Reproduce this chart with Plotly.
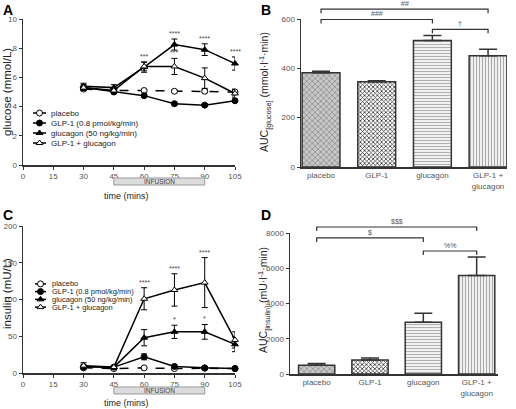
import plotly.graph_objects as go

# ---------------- data ----------------
time = [30, 45, 60, 75, 90, 105]
series_names = ["placebo", "GLP-1 (0.8 pmol/kg/min)", "glucagon (50 ng/kg/min)", "GLP-1 + glucagon"]

glu_placebo = [5.2, 5.1, 5.1, 5.05, 5.05, 5.0]
glu_placebo_err = [0.1, 0.1, 0.08, 0.08, 0.1, 0.2]
glu_glp1 = [5.3, 5.0, 4.75, 4.2, 4.1, 4.4]
glu_glp1_err = [0.1, 0.1, 0.08, 0.08, 0.08, 0.1]
glu_glucagon = [5.4, 5.3, 6.7, 8.25, 7.9, 6.95]
glu_glucagon_err = [0.2, 0.2, 0.35, 0.38, 0.4, 0.45]
glu_combo = [5.3, 5.1, 6.75, 6.75, 5.95, 4.9]
glu_combo_err = [0.2, 0.15, 0.3, 0.55, 0.7, 0.25]

ins_placebo = [7, 6, 7, 6, 6.5, 6]
ins_placebo_err = [1, 1, 1, 1, 1, 1]
ins_glp1 = [8, 8, 22, 9, 7, 6]
ins_glp1_err = [2, 1, 4, 1.5, 1, 1]
ins_glucagon = [9, 8, 48, 56, 56, 39]
ins_glucagon_err = [3, 2, 11, 9, 10, 10]
ins_combo = [10, 8, 101, 113, 123, 45]
ins_combo_err = [4, 2, 15, 22, 34, 11]

glu_stars = [(60, "glucagon", "***"), (75, "glucagon", "****"), (90, "glucagon", "****"),
             (105, "glucagon", "****"), (75, "combo", "***")]
ins_stars = [(60, "combo", "****"), (75, "combo", "****"), (90, "combo", "****"),
             (75, "glucagon", "*"), (90, "glucagon", "*")]

bar_labels = ["placebo", "GLP-1", "glucagon", "GLP-1 +<br>glucagon"]
auc_glucose = [382, 346, 513, 451]
auc_glucose_err = [6, 4, 20, 26]
auc_insulin = [490, 790, 2940, 5590]
auc_insulin_err = [110, 120, 510, 1050]

glu_brackets = [(0, 3, "##", 640), (0, 2, "###", 598), (2, 3, "†", 558)]
ins_brackets = [(0, 3, "$$$", 8340), (0, 2, "$", 7720), (2, 3, "%%", 6980)]

time_ticks = [0, 15, 30, 45, 60, 75, 90, 105]
infusion = (45, 90)

# ---------------- layout geometry ----------------
W, H = 516, 409
def px(x): return x / W
def py(y): return 1 - y / H

FONT = "Liberation Sans, Arial, sans-serif"
AX = "#333333"
TICKC = "#555555"

domA = dict(x=[px(23), px(235)], y=[py(165), py(19)], xr=[0, 105], yr=[0, 10])
domB = dict(x=[px(301), px(507)], y=[py(167), py(19)], xr=[-0.36, 3.34], yr=[0, 600])
domC = dict(x=[px(23), px(235)], y=[py(373), py(226)], xr=[0, 105], yr=[0, 200])
domD = dict(x=[px(290), px(498)], y=[py(374), py(233)], xr=[-0.5, 3.4], yr=[0, 8000])

def mapx(v, d): return d["x"][0] + (v - d["xr"][0]) / (d["xr"][1] - d["xr"][0]) * (d["x"][1] - d["x"][0])
def mapy(v, d): return d["y"][0] + (v - d["yr"][0]) / (d["yr"][1] - d["yr"][0]) * (d["y"][1] - d["y"][0])

fig = go.Figure()

styles = [
    dict(symbol="circle", color="white", dash="dash"),
    dict(symbol="circle", color="black", dash="solid"),
    dict(symbol="triangle-up", color="black", dash="solid"),
    dict(symbol="triangle-up", color="white", dash="solid"),
]

def add_lines(vals, errs, xa, ya):
    for (v, e, st, nm) in zip(vals, errs, styles, series_names):
        fig.add_trace(go.Scatter(
            x=time, y=v, xaxis=xa, yaxis=ya, name=nm, showlegend=False,
            mode="lines+markers",
            line=dict(color="black", width=1.5, dash=st["dash"]),
            marker=dict(symbol=st["symbol"], size=6, color=st["color"],
                        line=dict(color="black", width=1)),
            error_y=dict(type="data", array=e, color="black", thickness=1, width=3),
            cliponaxis=False,
        ))

add_lines([glu_placebo, glu_glp1, glu_glucagon, glu_combo],
          [glu_placebo_err, glu_glp1_err, glu_glucagon_err, glu_combo_err], "x", "y")
add_lines([ins_placebo, ins_glp1, ins_glucagon, ins_combo],
          [ins_placebo_err, ins_glp1_err, ins_glucagon_err, ins_combo_err], "x3", "y3")

patterns = [
    dict(shape="x", bgcolor="#c8c8c8", fgcolor="#808080", size=4, solidity=0.3),
    dict(shape="x", bgcolor="#ffffff", fgcolor="#333333", size=3, solidity=0.45),
    dict(shape="-", bgcolor="#ffffff", fgcolor="#b0b0b0", size=3, solidity=0.45),
    dict(shape="|", bgcolor="#ffffff", fgcolor="#a8a8a8", size=3, solidity=0.45),
]

def add_bars(vals, errs, xa, ya):
    for i, (v, e) in enumerate(zip(vals, errs)):
        fig.add_trace(go.Bar(
            x=[i], y=[v], xaxis=xa, yaxis=ya, width=0.68, showlegend=False,
            marker=dict(color=patterns[i]["bgcolor"], pattern=patterns[i],
                        line=dict(color="#333333", width=1.5)),
            error_y=dict(type="data", array=[e], arrayminus=[0], symmetric=False,
                         color="#333333", thickness=1.5, width=9),
        ))

add_bars(auc_glucose, auc_glucose_err, "x2", "y2")
add_bars(auc_insulin, auc_insulin_err, "x4", "y4")

# ---------------- axes ----------------
def axis_common():
    return dict(showline=True, linecolor=AX, linewidth=1.5, ticks="outside", ticklen=3,
                tickcolor=AX, tickwidth=1, showgrid=False, zeroline=False, automargin=False,
                tickfont=dict(family=FONT, size=8, color=TICKC), fixedrange=True)

lay = dict(
    template="none",
    width=W, height=H, margin=dict(l=0, r=0, t=0, b=0, pad=0), autosize=False,
    paper_bgcolor="white", plot_bgcolor="white", showlegend=False, barmode="overlay",
    font=dict(family=FONT, color="#222"),
)
lay["xaxis"] = dict(axis_common(), domain=domA["x"], range=domA["xr"], anchor="y",
                    tickvals=time_ticks)
lay["yaxis"] = dict(axis_common(), domain=domA["y"], range=domA["yr"], anchor="x", dtick=2)
lay["xaxis2"] = dict(axis_common(), domain=domB["x"], range=domB["xr"], anchor="y2",
                     tickvals=[0, 1, 2, 3], ticktext=bar_labels, ticks="")
lay["yaxis2"] = dict(axis_common(), domain=domB["y"], range=domB["yr"], anchor="x2", dtick=200)
lay["xaxis3"] = dict(axis_common(), domain=domC["x"], range=domC["xr"], anchor="y3",
                     tickvals=time_ticks)
lay["yaxis3"] = dict(axis_common(), domain=domC["y"], range=domC["yr"], anchor="x3", dtick=50)
lay["xaxis4"] = dict(axis_common(), domain=domD["x"], range=domD["xr"], anchor="y4",
                     tickvals=[0, 1, 2, 3], ticktext=bar_labels, ticks="")
lay["yaxis4"] = dict(axis_common(), domain=domD["y"], range=domD["yr"], anchor="x4", dtick=2000)

# legend axes (manual compact legends)
lay["xaxis5"] = dict(domain=[px(33), px(46)], range=[0, 1], visible=False, anchor="y5", fixedrange=True)
lay["yaxis5"] = dict(domain=[py(148), py(108)], range=[3.5, -0.5], visible=False, anchor="x5", fixedrange=True)
lay["xaxis6"] = dict(domain=[px(35), px(46)], range=[0, 1], visible=False, anchor="y6", fixedrange=True)
lay["yaxis6"] = dict(domain=[py(311), py(280)], range=[3.5, -0.5], visible=False, anchor="x6", fixedrange=True)
fig.update_layout(**lay)

annotations = []
shapes = []

def ann(**kw):
    kw.setdefault("showarrow", False)
    kw.setdefault("xanchor", "center")
    kw.setdefault("yanchor", "middle")
    annotations.append(kw)

def add_legend(xa, ya, textx, fsize):
    for i, (st, nm) in enumerate(zip(styles, series_names)):
        fig.add_trace(go.Scatter(x=[0, 1], y=[i, i], xaxis=xa, yaxis=ya, mode="lines",
                                 line=dict(color="black", width=1.5, dash="solid"),
                                 showlegend=False, hoverinfo="skip"))
        fig.add_trace(go.Scatter(x=[0.5], y=[i], xaxis=xa, yaxis=ya, mode="markers",
                                 marker=dict(symbol=st["symbol"], size=6, color=st["color"],
                                             line=dict(color="black", width=1)),
                                 showlegend=False, hoverinfo="skip"))
        ann(x=px(textx), y=i, xref="paper", yref=ya, text=nm, xanchor="left",
            font=dict(family=FONT, size=fsize, color="#222"))

add_legend("x5", "y5", 49, 8)
add_legend("x6", "y6", 50, 7.5)

# stars
def add_stars(stars, lookup, xa, ya):
    for t, key, txt in stars:
        i = time.index(t)
        v, e = lookup[key]
        ann(x=t, y=v[i] + e[i], xref=xa, yref=ya, text=txt, yanchor="bottom", yshift=0,
            font=dict(family=FONT, size=7, color="#444"))

add_stars(glu_stars, {"glucagon": (glu_glucagon, glu_glucagon_err), "combo": (glu_combo, glu_combo_err)},
          "x", "y")
add_stars(ins_stars, {"glucagon": (ins_glucagon, ins_glucagon_err), "combo": (ins_combo, ins_combo_err)},
          "x3", "y3")

# infusion boxes
for d, ytop, ybot, ylab in [(domA, 178, 185, 196), (domC, 387, 394, 403)]:
    x0, x1 = mapx(infusion[0], d), mapx(infusion[1], d)
    shapes.append(dict(type="rect", xref="paper", yref="paper", x0=x0, x1=x1,
                       y0=py(ybot), y1=py(ytop), fillcolor="#dcdcdc",
                       line=dict(color="#999999", width=1)))
    ann(x=(x0 + x1) / 2, y=py((ytop + ybot) / 2), xref="paper", yref="paper",
        text="INFUSION", font=dict(family=FONT, size=6.5, color="#444"))
    ann(x=px(126), y=py(ylab), xref="paper", yref="paper",
        text="time (mins)", font=dict(family=FONT, size=9, color="#222"))

# brackets
def add_brackets(br, d, drop):
    for a, b, txt, h in br:
        xa_, xb_ = mapx(a, d), mapx(b, d)
        yh = mapy(h, d)
        yl = yh - drop / H
        shapes.append(dict(type="path", xref="paper", yref="paper",
                           path=f"M{xa_},{yl} L{xa_},{yh} L{xb_},{yh} L{xb_},{yl}",
                           line=dict(color="#333333", width=1.2)))
        ann(x=(xa_ + xb_) / 2, y=yh, xref="paper", yref="paper", text=txt,
            yanchor="bottom", font=dict(family=FONT, size=7, color="#555555"))

add_brackets(glu_brackets, domB, 4)
add_brackets(ins_brackets, domD, 4)

# axis titles
titles = [
    ("glucose (mmol/L)", 7, 92, 11.5),
    ("insulin (mU/L)", 7, 294, 11.5),
    ("AUC<sub>[glucose]</sub> (mmol·l<sup>-1</sup>·min)", 265, 92, 10.5),
    ("AUC<sub>[insulin]</sub> (mU·l<sup>-1</sup>·min)", 264, 300, 10.5),
]
for txt, x, y, s in titles:
    ann(x=px(x), y=py(y), xref="paper", yref="paper", text=txt, textangle=-90,
        font=dict(family=FONT, size=s, color="#222"))

# panel letters
for L, x, y in [("A", 1, 0), ("B", 259, 0), ("C", 1, 205), ("D", 259, 205)]:
    ann(x=px(x), y=py(y), xref="paper", yref="paper", text=f"<b>{L}</b>",
        xanchor="left", yanchor="top", font=dict(family=FONT, size=14, color="black"))

fig.update_layout(annotations=annotations, shapes=shapes)
fig.write_html("out.html", config={"displayModeBar": False, "staticPlot": True},
               post_script="document.body.style.margin='0px';document.body.style.overflow='hidden';")
